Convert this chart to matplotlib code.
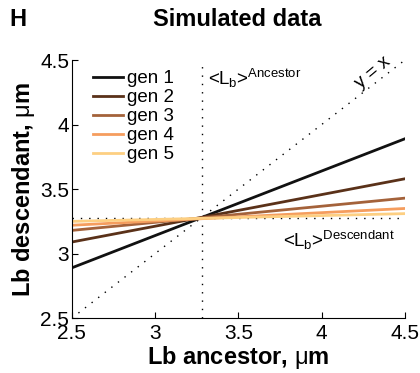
import numpy as np
import matplotlib
matplotlib.use("Agg")
import matplotlib.pyplot as plt

plt.rcParams['font.family'] = ['Liberation Sans', 'DejaVu Sans']
plt.rcParams['mathtext.fontset'] = 'custom'
plt.rcParams['mathtext.rm'] = 'Liberation Sans'
plt.rcParams['mathtext.it'] = 'Liberation Sans:italic'
plt.rcParams['mathtext.bf'] = 'Liberation Sans:bold'

# data
gens = ['gen 1', 'gen 2', 'gen 3', 'gen 4', 'gen 5']
x_ends = [2.5, 4.5]
y_left = [2.89, 3.09, 3.18, 3.22, 3.25]
y_right = [3.89, 3.58, 3.43, 3.35, 3.31]
colors = ['#111111', '#5a3119', '#a4623a', '#f59d5e', '#fdcf82']
mean_anc = 3.28
mean_desc = 3.275
ticks = [2.5, 3, 3.5, 4, 4.5]
tick_labels = ['2.5', '3', '3.5', '4', '4.5']

fig = plt.figure(figsize=(4.2, 3.73), dpi=100)
ax = fig.add_axes([0.171, 0.147, 0.793, 0.692])

dots = (0, (1, 5))
ax.plot([2.5, 4.5], [2.5, 4.5], ls=dots, color='k', lw=1)
ax.axvline(mean_anc, ls=dots, color='k', lw=1)
ax.axhline(mean_desc, ls=dots, color='k', lw=1)
for g, yl, yr, c in zip(gens, y_left, y_right, colors):
    ax.plot(x_ends, [yl, yr], color=c, lw=2, label=g)

ax.set_xlim(2.5, 4.5)
ax.set_ylim(2.5, 4.5)
ax.set_xticks(ticks)
ax.set_yticks(ticks)
ax.set_xticklabels(tick_labels)
ax.set_yticklabels(tick_labels)
ax.tick_params(direction='in', labelsize=15, length=4, pad=2)
ax.tick_params(axis='x', pad=4)
for s in ['top', 'right']:
    ax.spines[s].set_visible(False)

ax.set_xlabel('Lb ancestor, $\\mathrm{\\mu}$m', fontsize=17, fontweight='bold', labelpad=1)
ax.set_ylabel('Lb descendant, $\\mathrm{\\mu}$m', fontsize=17, fontweight='bold', labelpad=2)
fig.text(0.565, 0.948, 'Simulated data', fontsize=17, fontweight='bold', ha='center', va='center')
fig.text(0.022, 0.948, 'H', fontsize=17, fontweight='bold', va='center')

ax.legend(loc='upper left', frameon=False, fontsize=13.5, handlelength=1.6,
          handletextpad=0.25, labelspacing=0.1, borderaxespad=0.0,
          bbox_to_anchor=(0.04, 0.99))

ax.text(3.32, 4.31, '<L$_\\mathregular{b}$>$^\\mathregular{Ancestor}$', fontsize=13.5)
ax.text(3.77, 3.05, '<L$_\\mathregular{b}$>$^\\mathregular{Descendant}$', fontsize=13.5)
ax.text(4.31, 4.40, 'y = x', fontsize=13.5, rotation=40, ha='center', va='center')

fig.savefig('out.png', dpi=100)
